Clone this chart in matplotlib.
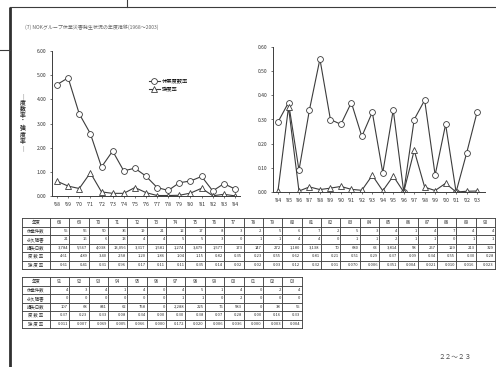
import numpy as np
import matplotlib
matplotlib.use("Agg")
import matplotlib.pyplot as plt

plt.rcParams['font.family'] = ['Noto Sans CJK JP', 'DejaVu Sans']

# 年度別データ (1968-2003)
years = list(range(1968, 2004))
cases = [55, 56, 50, 36, 19, 21, 12, 17, 8, 3, 2, 5, 6, 7, 2, 5, 3, 4, 1, 4, 7, 4, 4,
         4, 3, 4, 1, 4, 0, 4, 5, 1, 4, 0, 2, 4]
permanent = [21, 16, 6, 13, 4, 4, 5, 5, 3, 0, 1, 1, 4, 4, 0, 1, 1, 2, 1, 1, 0, 1, 1,
             0, 0, 0, 0, 0, 0, 1, 1, 0, 2, 0, 0, 0]
lost_days = [3784, 5567, 4038, 13056, 3317, 1581, 1274, 3479, 1577, 173, 147, 272, 1180,
             3138, 70, 680, 63, 3814, 58, 257, 129, 213, 329,
             107, 68, 841, 62, 758, 0, 2288, 225, 76, 583, 0, 38, 55]
freq_rate = [4.61, 4.89, 3.40, 2.58, 1.20, 1.86, 1.04, 1.15, 0.82, 0.35, 0.23, 0.55, 0.62,
             0.81, 0.21, 0.51, 0.29, 0.37, 0.09, 0.34, 0.55, 0.30, 0.28,
             0.37, 0.23, 0.33, 0.08, 0.34, 0.00, 0.30, 0.38, 0.07, 0.28, 0.00, 0.16, 0.33]
sev_rate = [0.61, 0.41, 0.31, 0.96, 0.17, 0.11, 0.11, 0.35, 0.14, 0.02, 0.02, 0.03, 0.12,
            0.32, 0.01, 0.070, 0.006, 0.351, 0.004, 0.021, 0.010, 0.016, 0.023,
            0.011, 0.007, 0.069, 0.005, 0.066, 0.000, 0.172, 0.020, 0.006, 0.036, 0.000,
            0.003, 0.004]

row_labels = ['年度', '休業件数', '永久障害', '損失日数', '度 数 率', '強 度 率']
legend_labels = ['休業度数率', '強度率']

W, H = 496, 367
fig = plt.figure(figsize=(W / 100, H / 100), dpi=100)
fig.patch.set_facecolor('white')

ink = '#3c3c3c'
txt = '#303030'


def box(l, t, r, b):
    return [l / W, 1 - b / H, (r - l) / W, (b - t) / H]


# page background in pixel units
bg = fig.add_axes([0, 0, 1, 1])
bg.set_xlim(0, W)
bg.set_ylim(H, 0)
bg.axis('off')

bg.plot([10, 10], [7, H], color='#303030', lw=2.0, solid_capstyle='butt')
bg.plot([10, W], [7, 7], color=ink, lw=0.8)
bg.plot([127, 127], [0, 7], color=ink, lw=0.8)
bg.plot([0, 10], [50, 50], color=ink, lw=0.8)

bg.text(25, 27, '(7) NOKグループ休業災害発生状況の年度推移(1968～2003)',
        fontsize=3.6, color='#666666', va='center', ha='left')
bg.text(23, 122, '｜\n度\n数\n率\n・\n強\n度\n率\n｜', fontsize=4.2, color=txt,
        ha='center', va='center', linespacing=1.15, fontweight='bold')
bg.text(455, 357, '２２～２３', fontsize=4.8, color='#555555', ha='center', va='center')


def style_chart(ax, labels):
    for s in ['top', 'right']:
        ax.spines[s].set_visible(False)
    for s in ['left', 'bottom']:
        ax.spines[s].set_color(ink)
        ax.spines[s].set_linewidth(0.7)
    ax.set_xticks(range(len(labels)))
    ax.set_xticklabels(labels)
    ax.tick_params(axis='both', labelsize=3.6, colors=ink, length=1.5, width=0.5,
                   pad=2.5, labelcolor=txt)
    ax.patch.set_alpha(0)


line_kw = dict(color=ink, lw=0.8, markerfacecolor='white', markeredgecolor=ink,
               markeredgewidth=0.6)

# 1968-1984
n1 = 17
ax1 = fig.add_axes(box(52, 51, 240, 196))
ax1.plot(range(n1), freq_rate[:n1], marker='o', ms=4.2, label=legend_labels[0], **line_kw)
ax1.plot(range(n1), sev_rate[:n1], marker='^', ms=3.9, label=legend_labels[1], **line_kw)
ax1.set_xlim(-0.45, n1 - 1 + 0.45)
ax1.set_ylim(0, 6)
ax1.set_yticks(np.arange(0, 6.01, 1))
ax1.set_yticklabels([f'{v:.2f}' for v in np.arange(0, 6.01, 1)])
style_chart(ax1, [f"'{y % 100:02d}" for y in years[:n1]])
ax1.legend(loc='upper left', bbox_to_anchor=(146 / W, 1 - 76 / H),
           bbox_transform=fig.transFigure, frameon=False, fontsize=3.8,
           handlelength=2.2, handletextpad=0.3, labelspacing=0.6, borderpad=0)

# 1984-2003
s2 = 16
n2 = len(years) - s2
ax2 = fig.add_axes(box(273, 47, 485, 192))
ax2.plot(range(n2), freq_rate[s2:], marker='o', ms=4.2, **line_kw)
ax2.plot(range(n2), sev_rate[s2:], marker='^', ms=3.9, **line_kw)
ax2.set_xlim(-0.48, n2 - 1 + 0.76)
ax2.set_ylim(0, 0.6)
ax2.set_yticks(np.arange(0, 0.61, 0.1))
ax2.set_yticklabels([f'{v:.2f}' for v in np.arange(0, 0.61, 0.1)])
style_chart(ax2, [f"'{y % 100:02d}" for y in years[s2:]])


def fmt_sev(i):
    return f'{sev_rate[i]:.2f}' if years[i] < 1983 else f'{sev_rate[i]:.3f}'


def draw_table(top, idx):
    x0, xl, cw, rh = 22, 50, 19.35, 8.5
    ncol = len(idx)
    right = xl + cw * ncol
    bottom = top + rh * len(row_labels)
    for r in range(len(row_labels) + 1):
        y = top + r * rh
        bg.plot([x0, right], [y, y], color='#444444', lw=0.65)
    for x in [x0] + [xl + c * cw for c in range(ncol + 1)]:
        bg.plot([x, x], [top, bottom], color='#444444', lw=0.65)
    for r, lab in enumerate(row_labels):
        bg.text((x0 + xl) / 2, top + (r + 0.5) * rh, lab, fontsize=3.2, color=txt,
                ha='center', va='center')
    for c, i in enumerate(idx):
        xc = xl + c * cw
        cells = [f'{cases[i]}', f'{permanent[i]}', f'{lost_days[i]:,}',
                 f'{freq_rate[i]:.2f}', fmt_sev(i)]
        bg.text(xc + cw / 2, top + 0.5 * rh, f'{years[i] % 100:02d}', fontsize=3.3,
                color=txt, ha='center', va='center')
        for r, s in enumerate(cells, start=1):
            bg.text(xc + cw - 1.2, top + (r + 0.5) * rh, s, fontsize=3.0, color=txt,
                    ha='right', va='center')


draw_table(218, range(0, 23))
draw_table(277, range(23, 36))

fig.savefig('out.png', dpi=100, facecolor='white')
